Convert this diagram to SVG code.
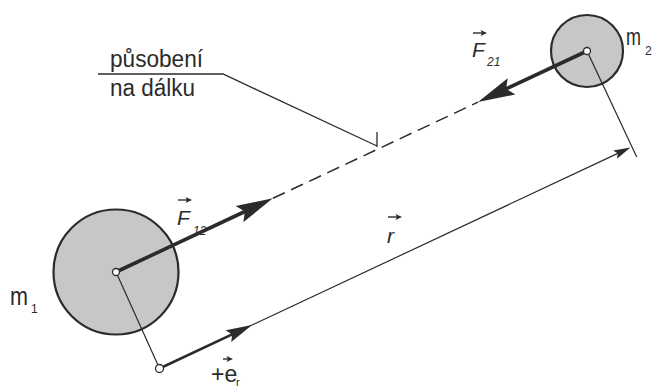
<svg xmlns="http://www.w3.org/2000/svg" width="653" height="387" viewBox="0 0 653 387">
<style>
.ln{stroke:#2b2b2b;fill:none;stroke-linecap:butt}
.thin{stroke-width:1.2}
.thick{stroke-width:3.6}
.mass{fill:#c7c7c7;stroke:#2b2b2b;stroke-width:2.2}
.dot{fill:#fff;stroke:#2b2b2b;stroke-width:1.3}
.t{font-family:"Liberation Sans",Arial,sans-serif;fill:#2b2b2b}
.it{font-style:italic}
.hd{fill:#2b2b2b;stroke:none}
</style>
<defs>
<marker id="big" markerUnits="userSpaceOnUse" orient="auto" refX="0" refY="0" markerWidth="40" markerHeight="20" overflow="visible"><path class="hd" d="M31,0 L-6,-9 L0,0 L-6,9 Z"/></marker>
<marker id="mid" markerUnits="userSpaceOnUse" orient="auto" refX="0" refY="0" markerWidth="30" markerHeight="16" overflow="visible"><path class="hd" d="M22,0 L-4,-6.5 L0,0 L-4,6.5 Z"/></marker>
<marker id="sm" markerUnits="userSpaceOnUse" orient="auto" refX="0" refY="0" markerWidth="20" markerHeight="10" overflow="visible"><path class="hd" d="M14,0 L-3,-4.5 L0,0 L-3,4.5 Z"/></marker>
<marker id="vec" markerUnits="userSpaceOnUse" orient="auto" refX="0" refY="0" markerWidth="10" markerHeight="8" overflow="visible"><path class="hd" d="M4,0 L-2.5,-3 L-1,0 L-2.5,3 Z"/></marker>
</defs>
<rect width="653" height="387" fill="#fff"/>
<g id="mass1">
<circle class="mass" cx="116" cy="272" r="62.5"/>
</g>
<g id="mass2">
<circle class="mass" cx="587" cy="51" r="36"/>
</g>
<g id="connectors">
<line class="ln thin" x1="116" y1="272" x2="159.5" y2="368.5"/>
<line class="ln thin" x1="587" y1="51" x2="636.7" y2="156.9"/>
<line class="ln" stroke-width="1.5" stroke-dasharray="13 7" x1="273" y1="198.3" x2="478" y2="102.1"/>
<line class="ln thick" x1="116" y1="272" x2="244.9" y2="211.5" marker-end="url(#big)"/>
<line class="ln thick" x1="587" y1="51" x2="506.1" y2="88.9" marker-end="url(#big)"/>
<line class="ln thin" x1="159.5" y1="368.5" x2="617.8" y2="153.4" marker-end="url(#sm)"/>
<line class="ln" stroke-width="2.6" x1="159.5" y1="368.5" x2="232.1" y2="334.4" marker-end="url(#mid)"/>
<polyline class="ln" stroke-width="1.3" points="98,74 223,74 377,146"/>
<line class="ln" stroke-width="1.3" x1="377" y1="132" x2="377" y2="147"/>
<line class="ln" stroke-width="1.4" x1="473" y1="33" x2="483" y2="33" marker-end="url(#vec)"/>
<line class="ln" stroke-width="1.4" x1="178" y1="200" x2="188" y2="200" marker-end="url(#vec)"/>
<line class="ln" stroke-width="1.4" x1="388" y1="217" x2="398" y2="217" marker-end="url(#vec)"/>
<line class="ln" stroke-width="1.4" x1="223" y1="359" x2="229" y2="359" marker-end="url(#vec)"/>
</g>
<g id="centers">
<circle class="dot" cx="116" cy="272" r="3.5"/>
<circle class="dot" cx="587" cy="51" r="3.5"/>
<circle class="dot" cx="159.5" cy="368.5" r="4"/>
</g>
<g id="labels">
<text class="t" x="110" y="67" font-size="23" textLength="93" lengthAdjust="spacingAndGlyphs">působení</text>
<text class="t" x="110" y="96" font-size="23" textLength="85" lengthAdjust="spacingAndGlyphs">na dálku</text>
<text class="t it" x="472" y="57" font-size="21">F</text>
<text class="t it" x="487" y="66" font-size="12">21</text>
<text class="t it" x="177" y="225" font-size="21">F</text>
<text class="t it" x="193" y="235" font-size="12">12</text>
<text class="t it" x="387" y="243" font-size="21">r</text>
<text class="t" x="10" y="305" font-size="26" textLength="18" lengthAdjust="spacingAndGlyphs">m</text>
<text class="t" x="31" y="313" font-size="12">1</text>
<text class="t" x="626" y="45" font-size="23" textLength="15" lengthAdjust="spacingAndGlyphs">m</text>
<text class="t" x="645" y="55" font-size="12">2</text>
<text class="t" x="211" y="382" font-size="23">+e</text>
<text class="t" x="236" y="386" font-size="11">r</text>
</g>
</svg>
